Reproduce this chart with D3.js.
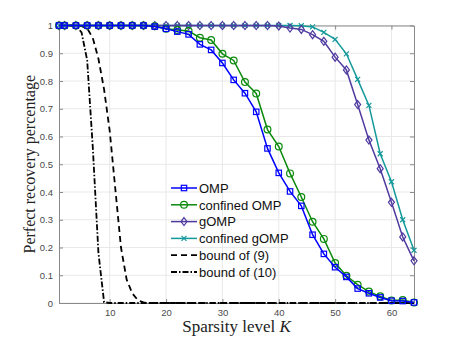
<!DOCTYPE html>
<html>
<head>
<meta charset="utf-8">
<script src="https://cdn.jsdelivr.net/npm/d3@7"></script>
<style>
  body { margin: 0; background: #fff; }
  svg { display: block; }
</style>
</head>
<body>
<script>
//sparsity levels where the algorithms were tested
var kAlg = [1, 2, 4, 6, 8, 10, 12, 14, 16, 18, 20, 22, 24, 26, 28, 30, 32,
            34, 36, 38, 40, 42, 44, 46, 48, 50, 52, 54, 56, 58, 60, 62, 64];

var omp = [1, 1, 1, 1, 1, 1, 1, 1, 1, 0.996, 0.988, 0.978, 0.968, 0.932, 0.912, 0.865, 0.804,
           0.756, 0.689, 0.557, 0.469, 0.402, 0.35, 0.246, 0.177, 0.129, 0.094, 0.052, 0.035, 0.02, 0.008, 0.007, 0.002];
var confOmp = [1, 1, 1, 1, 1, 1, 1, 1, 1, 0.997, 0.988, 0.984, 0.98, 0.956, 0.948, 0.898, 0.874,
               0.796, 0.755, 0.625, 0.564, 0.467, 0.382, 0.293, 0.231, 0.144, 0.098, 0.066, 0.041, 0.024, 0.009, 0.011, 0.002];
var gomp = [1, 1, 1, 1, 1, 1, 1, 1, 1, 1, 1, 1, 1, 1, 1, 1, 1,
            1, 1, 1, 0.998, 0.991, 0.986, 0.967, 0.943, 0.886, 0.84, 0.715, 0.587, 0.484, 0.363, 0.238, 0.152];
var confGomp = [1, 1, 1, 1, 1, 1, 1, 1, 1, 1, 1, 1, 1, 1, 1, 1, 1,
                1, 1, 1, 1, 1, 0.999, 0.995, 0.975, 0.95, 0.898, 0.806, 0.712, 0.538, 0.437, 0.3, 0.19];

//theoretical bounds, one value per K = 1..64
var kBound = d3.range(1, 65);
var bound9 = [1, 1, 1, 1, 0.998, 0.99, 0.955, 0.88, 0.77, 0.62, 0.41, 0.2, 0.085, 0.035, 0.01, 0.002]
    .concat(d3.range(16, 64).map(function(){ return 0; }));
var bound10 = [1, 1, 1, 1, 0.975, 0.875, 0.56, 0.18, 0.003]
    .concat(d3.range(9, 64).map(function(){ return 0; }));

var xTicks = [10, 20, 30, 40, 50, 60];
var yTicks = [0, 0.1, 0.2, 0.3, 0.4, 0.5, 0.6, 0.7, 0.8, 0.9, 1];

var seriesNames = ["OMP", "confined OMP", "gOMP", "confined gOMP", "bound of (9)", "bound of (10)"];

//frame
var width = 458,
    height = 341;
var margin = {left: 59, top: 25.5, right: 44, bottom: 38};
var innerW = width - margin.left - margin.right,
    innerH = height - margin.top - margin.bottom;

var svg = d3.select("body")
    .append("svg")
    .attr("width", width)
    .attr("height", height);

var x = d3.scaleLinear().domain([1, 64]).range([margin.left, margin.left + innerW]);
var y = d3.scaleLinear().domain([0, 1]).range([margin.top + innerH, margin.top]);

//grid
var grid = svg.append("g").attr("class", "grid");
grid.selectAll(".gx").data(xTicks).enter().append("line")
    .attr("x1", function(d){ return x(d); }).attr("x2", function(d){ return x(d); })
    .attr("y1", y(0)).attr("y2", y(1))
    .attr("stroke", "#e8e8e8").attr("stroke-width", 1);
grid.selectAll(".gy").data(yTicks).enter().append("line")
    .attr("y1", function(d){ return y(d); }).attr("y2", function(d){ return y(d); })
    .attr("x1", x(1)).attr("x2", x(64))
    .attr("stroke", "#e8e8e8").attr("stroke-width", 1);

//axes (MATLAB style box with inward ticks)
var xAxis = svg.append("g")
    .attr("transform", "translate(0," + y(0) + ")")
    .call(d3.axisBottom(x).tickValues(xTicks).tickSizeInner(-4).tickSizeOuter(0).tickPadding(6));
var xTop = svg.append("g")
    .attr("transform", "translate(0," + y(1) + ")")
    .call(d3.axisTop(x).tickValues(xTicks).tickSizeInner(-4).tickSizeOuter(0).tickFormat(""));
var yAxis = svg.append("g")
    .attr("transform", "translate(" + x(1) + ",0)")
    .call(d3.axisLeft(y).tickValues(yTicks).tickSizeInner(-4).tickSizeOuter(0).tickPadding(6)
        .tickFormat(function(d){ return d === 0 || d === 1 ? d3.format("d")(d) : d3.format(".1f")(d); }));
var yRight = svg.append("g")
    .attr("transform", "translate(" + x(64) + ",0)")
    .call(d3.axisRight(y).tickValues(yTicks).tickSizeInner(-4).tickSizeOuter(0).tickFormat(""));

[xAxis, xTop, yAxis, yRight].forEach(function(a){
    a.select(".domain").attr("stroke", "#8a8a8a").attr("stroke-width", 1);
    a.selectAll(".tick line").attr("stroke", "#8a8a8a");
    a.selectAll(".tick text")
        .attr("fill", "#4a4a4a")
        .style("font-family", "'Liberation Sans', Arial, sans-serif")
        .style("font-size", "9.5px");
});

//lines
var plot = svg.append("g");
var line = d3.line()
    .x(function(d){ return x(d[0]); })
    .y(function(d){ return y(d[1]); });

var series = [
    {name: seriesNames[0], k: kAlg, v: omp, color: "#0000ff", marker: "square", dash: null},
    {name: seriesNames[1], k: kAlg, v: confOmp, color: "#0c8a0c", marker: "circle", dash: null},
    {name: seriesNames[2], k: kAlg, v: gomp, color: "#4f3aa0", marker: "diamond", dash: null},
    {name: seriesNames[3], k: kAlg, v: confGomp, color: "#14999a", marker: "cross", dash: null},
    {name: seriesNames[4], k: kBound, v: bound9, color: "#000", marker: null, dash: "6,4"},
    {name: seriesNames[5], k: kBound, v: bound10, color: "#000", marker: null, dash: "6,2,1.5,2"}
];

//draw a marker shape centered at (cx, cy)
function drawMarker(g, type, cx, cy, color){
    if (type === "square"){
        g.append("rect").attr("x", cx - 2.7).attr("y", cy - 2.7).attr("width", 5.4).attr("height", 5.4)
            .attr("fill", "none").attr("stroke", color).attr("stroke-width", 1.2);
    } else if (type === "circle"){
        g.append("circle").attr("cx", cx).attr("cy", cy).attr("r", 3.4)
            .attr("fill", "none").attr("stroke", color).attr("stroke-width", 1.2);
    } else if (type === "diamond"){
        g.append("path").attr("d", "M" + cx + "," + (cy - 4) + "L" + (cx + 3) + "," + cy + "L" + cx + "," + (cy + 4) + "L" + (cx - 3) + "," + cy + "Z")
            .attr("fill", "none").attr("stroke", color).attr("stroke-width", 1.2);
    } else if (type === "cross"){
        g.append("path").attr("d", "M" + (cx - 2.5) + "," + (cy - 2.5) + "L" + (cx + 2.5) + "," + (cy + 2.5) +
                "M" + (cx - 2.5) + "," + (cy + 2.5) + "L" + (cx + 2.5) + "," + (cy - 2.5))
            .attr("fill", "none").attr("stroke", color).attr("stroke-width", 1.2);
    }
}

//bounds first so the algorithm curves sit on top
[4, 5, 3, 2, 1, 0].forEach(function(i){
    var s = series[i];
    var pts = s.k.map(function(k, j){ return [k, s.v[j]]; });
    plot.append("path")
        .datum(pts)
        .attr("fill", "none")
        .attr("stroke", s.color)
        .attr("stroke-width", s.marker ? 1.5 : 1.8)
        .attr("stroke-dasharray", s.dash)
        .attr("d", line);
    if (s.marker){
        var mg = plot.append("g");
        pts.forEach(function(p){ drawMarker(mg, s.marker, x(p[0]), y(p[1]), s.color); });
    }
});

//legend
var legend = svg.append("g").attr("transform", "translate(171,188)");
series.forEach(function(s, i){
    var row = legend.append("g").attr("transform", "translate(0," + (i * 16.8) + ")");
    row.append("line")
        .attr("x1", 0).attr("x2", 26).attr("y1", 0).attr("y2", 0)
        .attr("stroke", s.color)
        .attr("stroke-width", s.marker ? 1.5 : 1.8)
        .attr("stroke-dasharray", s.dash);
    if (s.marker) drawMarker(row, s.marker, 13, 0, s.color);
    row.append("text")
        .attr("x", 28).attr("y", 4.8)
        .style("font-family", "'Liberation Sans', Arial, sans-serif")
        .style("font-size", "13px")
        .attr("fill", "#111")
        .text(s.name);
});

//axis titles
var xLabel = svg.append("text")
    .attr("x", (x(1) + x(64)) / 2)
    .attr("y", 332)
    .attr("text-anchor", "middle")
    .style("font-family", "'Liberation Serif', 'DejaVu Serif', serif")
    .style("font-size", "17px")
    .attr("fill", "#222");
xLabel.append("tspan").text("Sparsity level ");
xLabel.append("tspan").style("font-style", "italic").text("K");

svg.append("text")
    .attr("transform", "translate(35," + ((y(0) + y(1)) / 2) + ") rotate(-90)")
    .attr("text-anchor", "middle")
    .style("font-family", "'Liberation Serif', 'DejaVu Serif', serif")
    .style("font-size", "16px")
    .attr("fill", "#222")
    .text("Perfect recovery percentage");
</script>
</body>
</html>
